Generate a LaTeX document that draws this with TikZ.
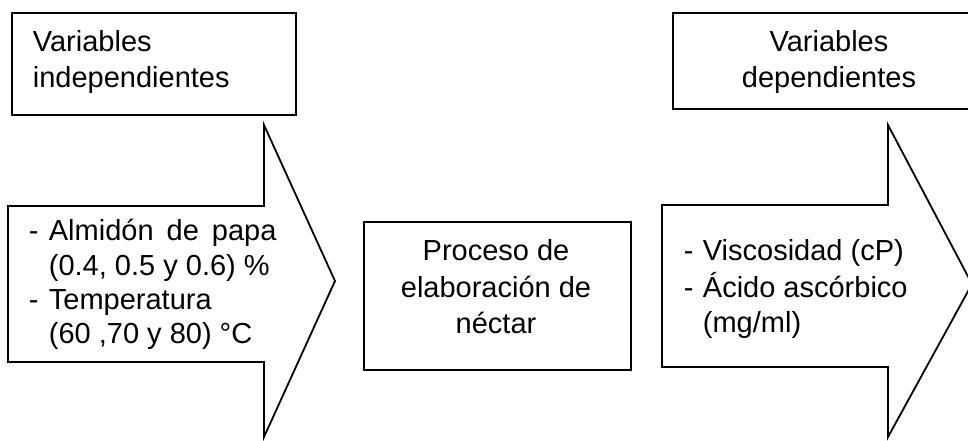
\documentclass[tikz,border=0pt]{standalone}
\usepackage{fontspec}
\setmainfont{Liberation Sans}
\begin{document}
\begin{tikzpicture}[x=1pt,y=-1pt,line width=1.8pt,line join=miter,
  lt/.style={inner sep=0pt,anchor=base west,font=\fontsize{29}{36}\selectfont},
  ct/.style={inner sep=0pt,anchor=base,font=\fontsize{29}{36}\selectfont},
  boxshape/.style={draw,inner sep=0pt,anchor=north west}]
\useasboundingbox (0,0) rectangle (968,441);
\begin{scope}
\clip (0,0) rectangle (968,441);
% left top box
\node[boxshape,minimum width=284pt,minimum height=102pt] (indbox) at (11,12) {};
\node[lt] (ind1) at (32,52) {Variables};
\node[lt] (ind2) at (32,88) {independientes};
% left arrow
\coordinate (la1) at (8,206);
\coordinate (la2) at (264,206);
\coordinate (la3) at (264,125);
\coordinate (latip) at (335,281);
\coordinate (la5) at (264,437);
\coordinate (la6) at (264,362);
\coordinate (la7) at (8,362);
\draw (la1) -- (la2) -- (la3) -- (latip) -- (la5) -- (la6) -- (la7) -- cycle;
\node[lt] (ld1) at (28,240) {-};
\node[lt] (lt1) at (48,240) {Almidón\hspace{0.45em}de\hspace{0.45em}papa};
\node[lt] (lt2) at (48,275) {(0.4, 0.5 y 0.6) \%};
\node[lt] (ld2) at (28,309) {-};
\node[lt] (lt3) at (48,309) {Temperatura};
\node[lt] (lt4) at (48,343) {(60 ,70 y 80) °C};
% middle box
\node[boxshape,minimum width=267pt,minimum height=148pt] (procbox) at (363,221) {};
\node[ct] (p1) at (496,260) {Proceso de};
\node[ct] (p2) at (496,297) {elaboración de};
\node[ct] (p3) at (496,333) {néctar};
% right top box
\node[boxshape,minimum width=314pt,minimum height=96pt] (depbox) at (672,12) {};
\node[ct] (dep1) at (829,52) {Variables};
\node[ct] (dep2) at (829,88) {dependientes};
% right arrow
\coordinate (ra1) at (662,205);
\coordinate (ra2) at (888,205);
\coordinate (ra3) at (888,125);
\coordinate (ratip) at (972,284);
\coordinate (ra5) at (888,437);
\coordinate (ra6) at (888,367);
\coordinate (ra7) at (662,367);
\draw (ra1) -- (ra2) -- (ra3) -- (ratip) -- (ra5) -- (ra6) -- (ra7) -- cycle;
\node[lt] (rd1) at (683,260) {-};
\node[lt] (rt1) at (702,260) {Viscosidad (cP)};
\node[lt] (rd2) at (683,297) {-};
\node[lt] (rt2) at (702,297) {Ácido ascórbico};
\node[lt] (rt3) at (702,332) {(mg/ml)};
\end{scope}
\end{tikzpicture}
\end{document}
